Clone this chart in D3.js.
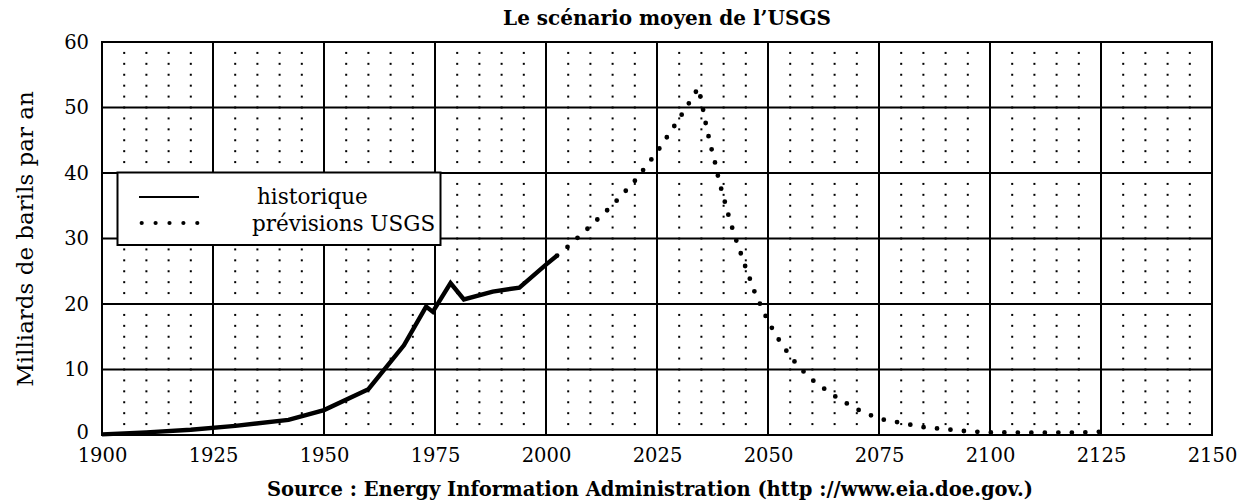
<!DOCTYPE html>
<html>
<head>
<meta charset="utf-8">
<script src="https://cdn.jsdelivr.net/npm/d3@7"></script>
<style>
  body { margin: 0; background: #fff; }
  text { font-family: "DejaVu Serif", serif; fill: #000; }
</style>
</head>
<body>
<svg id="chart" width="1245" height="504"></svg>
<script>
// historical production (solid)
const histYears  = [1900, 1910, 1920, 1930, 1942, 1950, 1960, 1968, 1973, 1974.5, 1978.5, 1981.5, 1988, 1994, 2000, 2002.5];
const histValues = [0.1, 0.4, 0.8, 1.4, 2.3, 3.8, 7.0, 13.7, 19.6, 18.8, 23.2, 20.7, 21.9, 22.5, 26.0, 27.4];

// USGS forecast (dotted)
const prevYears  = [2002.5, 2005, 2010, 2015, 2020, 2025, 2030, 2032.5, 2034.3, 2035, 2036, 2037, 2038, 2039, 2040, 2041, 2042, 2043, 2044, 2045, 2046, 2047, 2048, 2050, 2052, 2054, 2056, 2058, 2060, 2063, 2066, 2070, 2073, 2076, 2080, 2085, 2090, 2095, 2100, 2110, 2120, 2125];
const prevValues = [27.4, 28.8, 31.9, 35.1, 38.8, 43.2, 48.3, 51.0, 53.0, 51.0, 47.5, 44.4, 41.8, 38.7, 36.3, 33.8, 31.5, 29.4, 27.5, 25.5, 23.7, 21.8, 20.3, 17.4, 15.0, 13.0, 11.2, 9.7, 8.4, 6.9, 5.5, 3.95, 3.05, 2.35, 1.85, 1.2, 0.88, 0.55, 0.4, 0.35, 0.38, 0.5];

const xTicks = [1900, 1925, 1950, 1975, 2000, 2025, 2050, 2075, 2100, 2125, 2150];
const yTicks = [0, 10, 20, 30, 40, 50, 60];
const legendLabels = ["historique", "prévisions USGS"];

const titleText = "Le scénario moyen de l\u2019USGS";
const sourceText = "Source : Energy Information Administration (http ://www.eia.doe.gov.)";
const yLabel = "Milliards de barils par an";

const svg = d3.select("#chart");

const x = d3.scaleLinear().domain([1900, 2150]).range([102, 1212]);
const y = d3.scaleLinear().domain([0, 60]).range([435, 42]);

// minor dotted grid: a dot every 5 years and every 10/6 units
const dotXs = d3.range(1900, 2150.01, 5);
const dotYs = d3.range(0, 37).map(i => i * 10 / 6);
const dots = [];
dotXs.forEach(a => dotYs.forEach(b => dots.push([a, b])));

svg.append("g").selectAll("rect")
  .data(dots)
  .join("rect")
  .attr("x", d => x(d[0]) - 1)
  .attr("y", d => y(d[1]) - 1)
  .attr("width", 2)
  .attr("height", 2)
  .attr("fill", "#000");

// major grid
const grid = svg.append("g").attr("stroke", "#000").attr("stroke-width", 2);
grid.selectAll("line.v")
  .data(xTicks)
  .join("line")
  .attr("class", "v")
  .attr("x1", d => x(d)).attr("x2", d => x(d))
  .attr("y1", y(0)).attr("y2", y(60));
grid.selectAll("line.h")
  .data(yTicks)
  .join("line")
  .attr("class", "h")
  .attr("x1", x(1900)).attr("x2", x(2150))
  .attr("y1", d => y(d)).attr("y2", d => y(d));

// axis labels via d3 axes, domain and tick lines stripped
const xAxis = svg.append("g")
  .attr("transform", `translate(0,${y(0)})`)
  .call(d3.axisBottom(x).tickValues(xTicks).tickFormat(d3.format("d")).tickSize(0).tickPadding(12));
const yAxis = svg.append("g")
  .attr("transform", `translate(${x(1900)},0)`)
  .call(d3.axisLeft(y).tickValues(yTicks).tickSize(0).tickPadding(13));
[xAxis, yAxis].forEach(g => {
  g.select(".domain").remove();
  g.selectAll("text").attr("font-family", "DejaVu Serif").attr("font-size", 19.5).attr("fill", "#000");
});
xAxis.selectAll("text").attr("dy", "0.75em");
// lift the "0" a touch so it clears the 1900 label
yAxis.selectAll("text").filter(d => d === 0).attr("dy", "0.2em");

// series
const histData = histYears.map((yr, i) => [yr, histValues[i]]);
const prevData = prevYears.map((yr, i) => [yr, prevValues[i]]);
const line = d3.line().x(d => x(d[0])).y(d => y(d[1]));

svg.append("path")
  .datum(histData)
  .attr("d", line)
  .attr("fill", "none")
  .attr("stroke", "#000")
  .attr("stroke-width", 4.4);

svg.append("path")
  .datum(prevData)
  .attr("d", line)
  .attr("fill", "none")
  .attr("stroke", "#000")
  .attr("stroke-width", 4.8)
  .attr("stroke-linecap", "round")
  .attr("stroke-dasharray", "0 13.5");

// legend
const lg = svg.append("g");
lg.append("rect")
  .attr("x", 117.5).attr("y", 172.5)
  .attr("width", 323).attr("height", 72.5)
  .attr("fill", "#fff").attr("stroke", "#000").attr("stroke-width", 2);
lg.append("line")
  .attr("x1", 139).attr("x2", 199).attr("y1", 197).attr("y2", 197)
  .attr("stroke", "#000").attr("stroke-width", 2);
lg.append("line")
  .attr("x1", 141.7).attr("x2", 197.3).attr("y1", 223).attr("y2", 223)
  .attr("stroke", "#000").attr("stroke-width", 4.2)
  .attr("stroke-linecap", "round").attr("stroke-dasharray", "0 13.9");
lg.selectAll("text")
  .data(legendLabels)
  .join("text")
  .attr("x", (d, i) => i === 0 ? 257 : 252)
  .attr("y", (d, i) => i === 0 ? 204 : 231)
  .attr("font-size", 21.5)
  .text(d => d);

// titles
svg.append("text")
  .attr("x", 667).attr("y", 25)
  .attr("text-anchor", "middle")
  .attr("font-size", 20).attr("font-weight", "bold")
  .text(titleText);

svg.append("text")
  .attr("x", 650).attr("y", 496)
  .attr("text-anchor", "middle")
  .attr("font-size", 19.5).attr("font-weight", "bold")
  .text(sourceText);

svg.append("text")
  .attr("transform", "translate(33,239) rotate(-90)")
  .attr("text-anchor", "middle")
  .attr("font-size", 23)
  .text(yLabel);
</script>
</body>
</html>
